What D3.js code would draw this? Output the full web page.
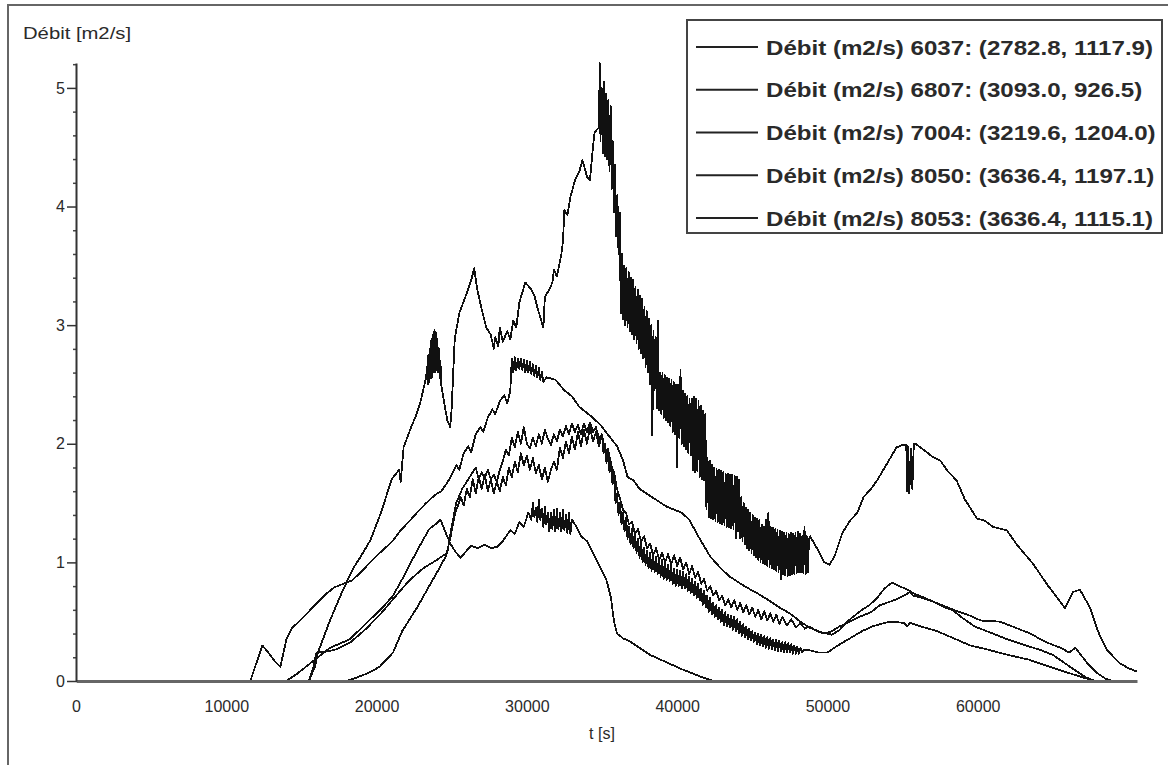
<!DOCTYPE html>
<html><head><meta charset="utf-8">
<script src="https://cdn.jsdelivr.net/npm/d3@7"></script>
<style>body{margin:0;background:#fff}svg{display:block}text{font-family:"Liberation Sans",Arial,sans-serif}</style>
</head><body><svg id="c" width="1168" height="765"></svg>
<script>
const xTicks=[0,10000,20000,30000,40000,50000,60000];
const yTicks=[0,1,2,3,4,5];
const yMinorTicks=[0.2,0.4,0.6,0.8,1.2,1.4,1.6,1.8,2.2,2.4,2.6,2.8,3.2,3.4,3.6,3.8,4.2,4.4,4.6,4.8,5.2];
const xTitle="t [s]";
const yTitle="Débit [m2/s]";
const legendLabels=["Débit (m2/s) 6037: (2782.8, 1117.9)","Débit (m2/s) 6807: (3093.0, 926.5)","Débit (m2/s) 7004: (3219.6, 1204.0)","Débit (m2/s) 8050: (3636.4, 1197.1)","Débit (m2/s) 8053: (3636.4, 1115.1)"];

const seriesA=[[0,0],[15500,0],[15900,0.12],[16100,0.24],[16900,0.51],[17600,0.72],[18400,0.94],[19000,1.06],[19600,1.19],[20300,1.42],[21000,1.7],[21500,1.78],[21600,1.68],[21700,1.82],[21800,1.97],[22300,2.14],[22600,2.23],[22900,2.34],[23300,2.56],
[23350,2.65],[23400,2.5],[23450,2.75],[23500,2.52],[23550,2.8],[23600,2.55],[23650,2.88],[23700,2.56],[23750,2.92],[23800,2.6],[23850,2.96],[23900,2.6],[23950,2.94],[24000,2.62],[24050,2.88],[24100,2.6],[24150,2.8],[24200,2.55],[24250,2.7],[24300,2.5],
[24500,2.35],[24700,2.2],[24900,2.14],[25000,2.3],[25100,2.6],[25200,2.88],[25500,3.1],[26000,3.27],[26300,3.38],[26500,3.48],[26700,3.3],[27000,3.13],[27300,2.98],[27600,2.92],[27800,2.8],[27900,2.9],[28100,2.82],[28200,2.98],[28400,2.86],[28700,2.95],[28900,2.88],[29100,3.04],[29300,2.98],[29500,3.19],[29900,3.36],[30300,3.3],[30500,3.25],[30700,3.15],[31000,3.02],[31100,2.98],[31200,3.24],[31500,3.3],[31700,3.36],[31800,3.47],[32000,3.41],[32300,3.6],[32400,3.7],[32500,3.97],[32700,3.93],[32900,4.08],[33200,4.22],[33500,4.3],[33700,4.39],[33900,4.3],[34000,4.25],[34200,4.22],[34400,4.5],[34500,4.62],[34800,4.67],
[34850,5.21],[34900,4.55],[34975,5.0],[35050,4.45],[35125,5.05],[35200,4.42],[35275,4.95],[35350,4.4],[35425,4.9],[35500,4.3],[35575,4.85],[35650,4.15],[35725,4.55],[35800,3.95],[35875,4.35],[35950,3.75],[36025,4.1],[36100,3.6],[36175,3.95],[36250,3.1],[36325,3.6],[36400,3.05],[36475,3.5],[36550,3.0],[36625,3.48],[36700,2.98],[36775,3.45],[36850,2.95],[36925,3.4],[37000,2.92],[37075,3.38],[37150,2.88],[37225,3.32],[37300,2.85],[37375,3.3],[37450,2.8],[37525,3.25],[37600,2.76],[37675,3.22],[37750,2.72],[37825,3.15],[37900,2.65],[37975,3.12],[38050,2.6],[38125,3.05],[38200,2.5],[38275,3.0],[38350,2.07],[38425,2.95],[38500,2.45],[38575,2.9],[38650,2.3],[38725,3.04],[38800,2.28],[38875,2.6],[38950,2.25],[39025,2.6],[39100,2.22],[39175,2.58],[39250,2.2],[39325,2.56],[39400,2.18],[39475,2.55],[39550,2.15],[39625,2.54],[39700,2.1],[39775,2.52],[39850,2.08],[39925,2.5],[40000,1.8],[40075,2.5],[40150,2.05],[40225,2.62],[40300,2.0],[40375,2.45],[40450,1.98],[40525,2.42],[40600,1.95],[40675,2.4],[40750,1.92],[40825,2.38],[40900,1.9],[40975,2.38],[41050,1.78],[41125,2.4],[41200,1.76],[41275,2.38],[41350,1.77],[41425,2.36],[41500,1.72],[41575,2.32],[41650,1.7],[41725,2.28],[41800,1.69],[41875,2.25],[41950,1.45],[42025,1.88],[42100,1.38],[42175,1.86],[42250,1.37],[42325,1.82],[42400,1.36],[42475,1.8],[42550,1.35],[42625,1.79],[42700,1.34],[42775,1.78],[42850,1.33],[42925,1.77],[43000,1.32],[43075,1.76],[43150,1.31],[43225,1.75],[43300,1.3],[43375,1.75],[43450,1.3],[43525,1.74],[43600,1.29],[43675,1.74],[43750,1.28],[43825,1.73],[43900,1.2],[43975,1.72],[44050,1.26],[44125,1.7],[44200,1.2],[44275,1.55],[44350,1.18],[44425,1.5],[44500,1.15],[44575,1.46],[44650,1.12],[44725,1.44],[44800,1.1],[44875,1.42],[44950,1.08],[45025,1.4],[45100,1.06],[45175,1.38],[45250,1.04],[45325,1.37],[45400,1.02],[45475,1.36],[45550,1.0],[45625,1.32],[45700,0.99],[45775,1.3],[45850,0.98],[45925,1.36],[46000,0.97],[46075,1.42],[46150,0.96],[46225,1.3],[46300,0.95],[46375,1.29],[46450,0.94],[46525,1.28],[46600,0.93],[46675,1.27],[46750,0.92],[46825,1.27],[46900,0.86],[46975,1.26],[47050,0.9],[47125,1.25],[47200,0.89],[47275,1.25],[47350,0.88],[47425,1.24],[47500,0.89],[47575,1.25],[47650,0.9],[47725,1.24],[47800,0.9],[47875,1.25],[47950,0.91],[48025,1.26],[48100,0.92],[48175,1.24],[48250,0.92],[48325,1.22],[48400,0.91],[48475,1.3],[48550,0.9],[48625,1.22],[48700,0.92],[48775,1.2],[48850,1.22],
[49300,1.12],[49800,1.0],[50150,0.98],[50500,1.06],[51000,1.25],[51500,1.35],[52000,1.42],[52400,1.55],[52900,1.62],[53300,1.69],[54000,1.84],[54600,1.97],[55000,1.99],[55250,1.99],[55300,1.6],[55350,1.98],[55450,1.58],[55550,1.96],[55650,1.62],[55750,2.0],[55850,2.0],[56500,1.94],[57000,1.89],[57500,1.86],[58000,1.77],[58600,1.69],[59150,1.53],[59950,1.37],[60500,1.35],[61000,1.3],[61940,1.27],[62600,1.15],[63670,0.99],[64700,0.8],[65800,0.615],[66330,0.75],[66800,0.77],[67470,0.62],[68000,0.42],[68600,0.26],[69460,0.15],[70000,0.11],[70590,0.08]];

const seriesB=[[0,0],[11600,0],[12000,0.15],[12400,0.3],[12800,0.24],[13200,0.17],[13600,0.12],[14000,0.35],[14400,0.45],[15000,0.52],[15600,0.6],[16200,0.68],[16700,0.74],[17200,0.79],[17600,0.81],[18400,0.85],[19200,0.95],[19800,1.03],[20300,1.09],[21000,1.17],[21600,1.27],[22200,1.35],[22700,1.42],[23300,1.5],[23900,1.57],[24300,1.6],[24700,1.67],[25000,1.74],[25300,1.82],[25500,1.78],[25800,1.92],[26100,1.98],[26300,1.93],[26600,2.08],[26900,2.14],[27100,2.1],[27400,2.22],[27700,2.29],[27900,2.25],[28200,2.36],[28500,2.41],[28700,2.34],[28900,2.45],[29000,2.72],[29100,2.6],[29200,2.73],[29300,2.62],[29400,2.72],[29500,2.63],[29600,2.72],[29700,2.62],[29800,2.71],[29900,2.6],[30000,2.7],[30100,2.6],[30200,2.69],[30300,2.59],[30400,2.67],[30500,2.57],[30600,2.66],[30700,2.56],[30800,2.64],[30900,2.54],[31000,2.61],[31100,2.52],[31300,2.56],[31900,2.54],[32500,2.45],[33000,2.4],[33500,2.31],[34200,2.24],[34900,2.16],[35500,2.06],[36000,1.98],[36400,1.86],[36700,1.72],[37100,1.69],[37500,1.62],[38200,1.56],[38700,1.52],[39300,1.47],[40300,1.42],[40800,1.36],[41500,1.2],[42200,1.05],[42900,0.95],[43500,0.88],[44600,0.79],[45200,0.75],[46100,0.68],[46800,0.62],[47500,0.57],[48200,0.5],[48800,0.45],[49600,0.41],[50300,0.39],[50800,0.43],[51300,0.5],[51800,0.55],[52300,0.6],[52800,0.64],[53300,0.7],[53800,0.78],[54300,0.83],[54800,0.8],[55300,0.77],[55900,0.73],[56500,0.7],[57200,0.66],[57800,0.63],[58400,0.6],[59500,0.55],[60200,0.51],[61500,0.5],[62500,0.45],[63500,0.4],[64500,0.33],[65500,0.28],[66100,0.24],[66500,0.28],[66800,0.23],[67300,0.15],[67900,0.07],[68500,0.02],[69000,0],[70600,0]];

const seriesC=[[0,0],[15500,0],[15800,0.12],[16000,0.24],[16800,0.25],[17400,0.27],[18300,0.33],[19300,0.44],[20300,0.57],[21300,0.72],[22200,0.85],[23100,0.95],[24000,1.02],[24700,1.08],[25000,1.3],[25300,1.5],[25700,1.62],[26200,1.72],[26600,1.8],[26800,1.7],[27000,1.76],[27200,1.71],[27400,1.78],[27600,1.7],[27800,1.74],[28000,1.68],[28200,1.78],[28400,1.85],[28600,1.95],[28800,1.9],[29000,2.05],[29200,1.97],[29400,2.1],[29600,2.0],[29800,2.14],[30000,2.0],[30200,1.96],[30400,2.05],[30600,1.98],[30800,2.08],[31000,2.0],[31200,2.12],[31400,2.04],[31600,1.99],[31800,2.08],[32000,2.02],[32200,2.12],[32400,2.06],[32600,2.15],[32800,2.08],[33000,2.17],[33200,2.1],[33400,2.16],[33600,2.08],[33800,2.17],[34000,2.1],[34200,2.18],[34400,2.1],[34600,2.14],[34800,2.04],[35000,2.08],[35200,1.94],[35400,1.96],[35600,1.82],[35800,1.76],[36000,1.62],[36200,1.54],[36400,1.44],[36600,1.42],[36800,1.32],[37000,1.34],[37200,1.24],[37400,1.28],[37600,1.17],[37800,1.22],[38000,1.12],[38200,1.16],[38400,1.06],[38600,1.12],[38800,1.02],[39000,1.08],[39200,1.0],[39400,1.07],[39600,0.98],[39800,1.06],[40000,0.97],[40200,1.04],[40400,0.94],[40600,1.0],[40800,0.9],[41000,0.97],[41200,0.87],[41400,0.92],[41600,0.82],[41800,0.86],[42000,0.76],[42200,0.8],[42400,0.72],[42600,0.76],[42800,0.68],[43000,0.72],[43200,0.64],[43400,0.69],[43600,0.62],[43800,0.68],[44000,0.6],[44200,0.66],[44400,0.58],[44600,0.64],[44800,0.56],[45000,0.62],[45200,0.54],[45400,0.6],[45600,0.52],[45800,0.59],[46000,0.51],[46200,0.57],[46400,0.5],[46600,0.56],[46800,0.48],[47000,0.54],[47300,0.47],[47600,0.52],[47900,0.45],[48200,0.49],[48500,0.44],[48800,0.46],[49300,0.42],[49800,0.4],[50300,0.42],[50800,0.46],[51500,0.5],[52300,0.55],[52900,0.58],[53500,0.64],[54200,0.67],[54800,0.7],[55500,0.75],[55700,0.72],[56300,0.7],[57000,0.67],[57800,0.62],[58300,0.6],[59000,0.53],[59800,0.46],[61000,0.4],[62000,0.35],[63200,0.3],[64200,0.26],[65000,0.22],[65800,0.15],[66600,0.08],[67200,0.03],[67800,0],[70600,0]];

const seriesD=[[0,0],[18000,0],[18700,0.03],[19500,0.07],[20200,0.12],[21100,0.24],[21700,0.42],[22700,0.62],[23500,0.8],[24000,0.91],[24600,1.05],[24900,1.2],[25200,1.4],[25600,1.55],[25800,1.48],[26000,1.62],[26200,1.55],[26400,1.7],[26600,1.58],[26800,1.72],[27000,1.62],[27200,1.74],[27400,1.6],[27600,1.7],[27800,1.58],[28000,1.68],[28200,1.6],[28400,1.72],[28600,1.65],[28800,1.8],[29000,1.72],[29200,1.85],[29400,1.76],[29600,1.92],[29800,1.82],[30000,1.9],[30200,1.78],[30400,1.88],[30600,1.75],[30800,1.82],[31000,1.7],[31200,1.8],[31400,1.68],[31600,1.78],[31800,1.85],[32000,1.78],[32200,1.97],[32400,1.88],[32600,2.02],[32800,1.92],[33000,2.06],[33200,1.95],[33400,2.1],[33600,1.98],[33800,2.12],[34000,2.0],[34200,2.14],[34400,2.02],[34600,2.1],[34800,1.98],
[35000,2.08],[35100,1.92],[35200,2.0],[35300,1.84],[35400,1.95],[35500,1.76],[35600,1.85],[35700,1.66],[35800,1.74],[35900,1.5],[36000,1.58],[36100,1.4],[36200,1.5],[36300,1.32],[36400,1.42],[36500,1.26],[36600,1.38],[36700,1.2],[36800,1.3],[36900,1.15],[37000,1.28],[37100,1.12],[37200,1.24],[37300,1.08],[37400,1.2],[37500,1.04],[37600,1.18],[37700,1.0],[37800,1.12],[37900,0.98],[38000,1.1],[38100,0.95],[38200,1.08],[38300,0.93],[38400,1.06],[38500,0.92],[38600,1.05],[38700,0.9],[38800,1.03],[38900,0.88],[39000,1.02],[39100,0.86],[39200,1.0],[39300,0.85],[39400,0.98],[39500,0.84],[39600,0.97],[39700,0.82],[39800,0.95],[39900,0.8],[40000,0.94],[40100,0.8],[40200,0.93],[40300,0.78],[40400,0.92],[40500,0.78],[40600,0.9],[40700,0.76],[40800,0.88],[40900,0.74],[41000,0.86],[41100,0.72],[41200,0.84],[41300,0.7],[41400,0.82],[41500,0.68],[41600,0.78],[41700,0.64],[41800,0.76],[41900,0.62],[42000,0.72],[42100,0.58],[42200,0.7],[42300,0.56],[42400,0.66],[42500,0.54],[42600,0.64],[42700,0.52],[42800,0.62],[42900,0.5],[43000,0.6],[43100,0.47],[43200,0.58],[43300,0.46],[43400,0.56],[43500,0.45],[43600,0.55],[43700,0.43],[43800,0.54],[43900,0.42],[44000,0.52],[44100,0.4],[44200,0.5],[44300,0.38],[44400,0.48],[44500,0.37],[44600,0.46],[44700,0.35],[44800,0.44],[44900,0.34],[45000,0.42],[45100,0.33],[45200,0.41],[45300,0.31],[45400,0.4],[45500,0.3],[45600,0.39],[45700,0.29],[45800,0.38],[45900,0.28],[46000,0.37],[46100,0.27],[46200,0.36],[46300,0.27],[46400,0.35],[46500,0.26],[46600,0.35],[46700,0.25],[46800,0.34],[46900,0.25],[47000,0.33],[47100,0.24],[47200,0.33],[47300,0.24],[47400,0.32],[47500,0.24],[47600,0.31],[47700,0.23],[47800,0.3],[47900,0.23],[48000,0.29],[48100,0.23],[48200,0.28],[48300,0.24],[48400,0.26],
[48800,0.26],[49400,0.24],[50000,0.24],[50700,0.3],[51500,0.36],[52300,0.42],[53000,0.46],[53800,0.49],[54300,0.5],[55100,0.49],[55300,0.46],[55500,0.49],[56200,0.46],[57300,0.42],[58400,0.36],[59500,0.3],[60500,0.27],[62000,0.22],[63400,0.18],[64800,0.12],[66000,0.07],[67000,0.03],[67800,0],[70600,0]];

const seriesE=[[0,0],[14000,0],[14700,0.06],[15600,0.15],[16900,0.28],[18200,0.35],[19100,0.46],[20400,0.62],[21100,0.72],[21800,0.88],[22700,1.1],[23500,1.28],[24000,1.33],[24250,1.36],[24600,1.25],[24900,1.16],[25300,1.08],[25600,1.04],[26000,1.1],[26300,1.14],[26700,1.12],[27200,1.15],[27600,1.12],[28000,1.13],[28400,1.18],[28900,1.27],[29200,1.24],[29500,1.34],[29800,1.3],[30100,1.42],[30300,1.36],[30400,1.5],[30500,1.38],[30600,1.46],[30700,1.34],[30800,1.53],[30900,1.36],[31000,1.45],[31100,1.3],[31200,1.47],[31300,1.32],[31400,1.42],[31500,1.26],[31600,1.42],[31700,1.28],[31800,1.44],[31900,1.26],[32000,1.45],[32100,1.28],[32200,1.42],[32300,1.26],[32400,1.44],[32500,1.27],[32600,1.4],[32700,1.25],[32800,1.42],[32900,1.24],[33000,1.36],[33300,1.3],[33600,1.22],[34000,1.18],[34400,1.08],[34700,1.0],[35000,0.93],[35300,0.85],[35600,0.7],[35800,0.5],[36000,0.4],[36400,0.36],[36900,0.33],[37500,0.28],[38200,0.22],[38900,0.18],[39600,0.14],[40300,0.1],[40900,0.07],[41700,0.03],[42400,0],[70600,0]];

const allSeries=[seriesA,seriesB,seriesC,seriesD,seriesE];

const svg=d3.select("#c");
const x=d3.scaleLinear().domain([0,70600]).range([76,1137]);
const y=d3.scaleLinear().domain([0,5.21]).range([681,63]);
const txt="#2a2a2a";

svg.append("rect").attr("x",8).attr("y",5).attr("width",1170).attr("height",770)
  .attr("fill","none").attr("stroke","#666").attr("stroke-width",2);

const line=d3.line().x(d=>x(d[0])).y(d=>y(d[1]));
svg.append("g").selectAll("path").data(allSeries).join("path")
  .attr("d",line).attr("fill","none").attr("stroke","#111").attr("stroke-width",1.8)
  .attr("stroke-linejoin","round").attr("shape-rendering","crispEdges");

const gx=svg.append("g").attr("transform","translate(0,681)")
  .call(d3.axisBottom(x).tickValues(xTicks).tickSize(0).tickSizeOuter(0).tickPadding(20).tickFormat(d3.format("d")));
gx.select(".domain").attr("stroke","#666").attr("stroke-width",3);
gx.selectAll("text").attr("font-size",16).attr("fill",txt).attr("font-family","Liberation Sans, Arial, sans-serif");

const gym=svg.append("g").attr("transform","translate(76,0)")
  .call(d3.axisLeft(y).tickValues(yMinorTicks).tickSize(3).tickFormat(""));
gym.select(".domain").remove();
gym.selectAll("line").attr("stroke","#444").attr("stroke-width",1.5);
const gy=svg.append("g").attr("transform","translate(76,0)")
  .call(d3.axisLeft(y).tickValues(yTicks).tickSize(9).tickSizeOuter(0).tickPadding(2).tickFormat(d3.format("d")));
gy.select(".domain").attr("stroke","#333").attr("stroke-width",2);
gy.selectAll("line").attr("stroke","#333").attr("stroke-width",1.5);
gy.selectAll("text").attr("font-size",16).attr("fill",txt).attr("font-family","Liberation Sans, Arial, sans-serif");

svg.append("text").attr("x",23).attr("y",33).attr("dy","0.35em").attr("font-size",16).attr("fill",txt)
  .attr("textLength",108).attr("lengthAdjust","spacingAndGlyphs").text(yTitle);
svg.append("text").attr("x",602).attr("y",733).attr("dy","0.35em").attr("text-anchor","middle")
  .attr("font-size",16).attr("fill",txt).text(xTitle);

const lg=svg.append("g");
lg.append("rect").attr("x",687).attr("y",20).attr("width",475).attr("height",213)
  .attr("fill","#fff").attr("stroke","#444").attr("stroke-width",2);
const rowY=d3.scalePoint().domain(d3.range(legendLabels.length)).range([47,218]);
const rows=lg.selectAll("g.row").data(legendLabels).join("g").attr("class","row")
  .attr("transform",(d,i)=>`translate(0,${rowY(i)})`);
rows.append("line").attr("x1",696).attr("x2",758).attr("stroke","#222").attr("stroke-width",2);
const lt=rows.append("text").attr("x",766).attr("dy","0.36em").attr("font-size",21).attr("font-weight","bold")
  .attr("fill",txt).text(d=>d);
const w0=lt.nodes()[0].getComputedTextLength();
const k=387/w0;
lt.each(function(){const w=this.getComputedTextLength();d3.select(this).attr("textLength",w*k).attr("lengthAdjust","spacingAndGlyphs");});
</script></body></html>
